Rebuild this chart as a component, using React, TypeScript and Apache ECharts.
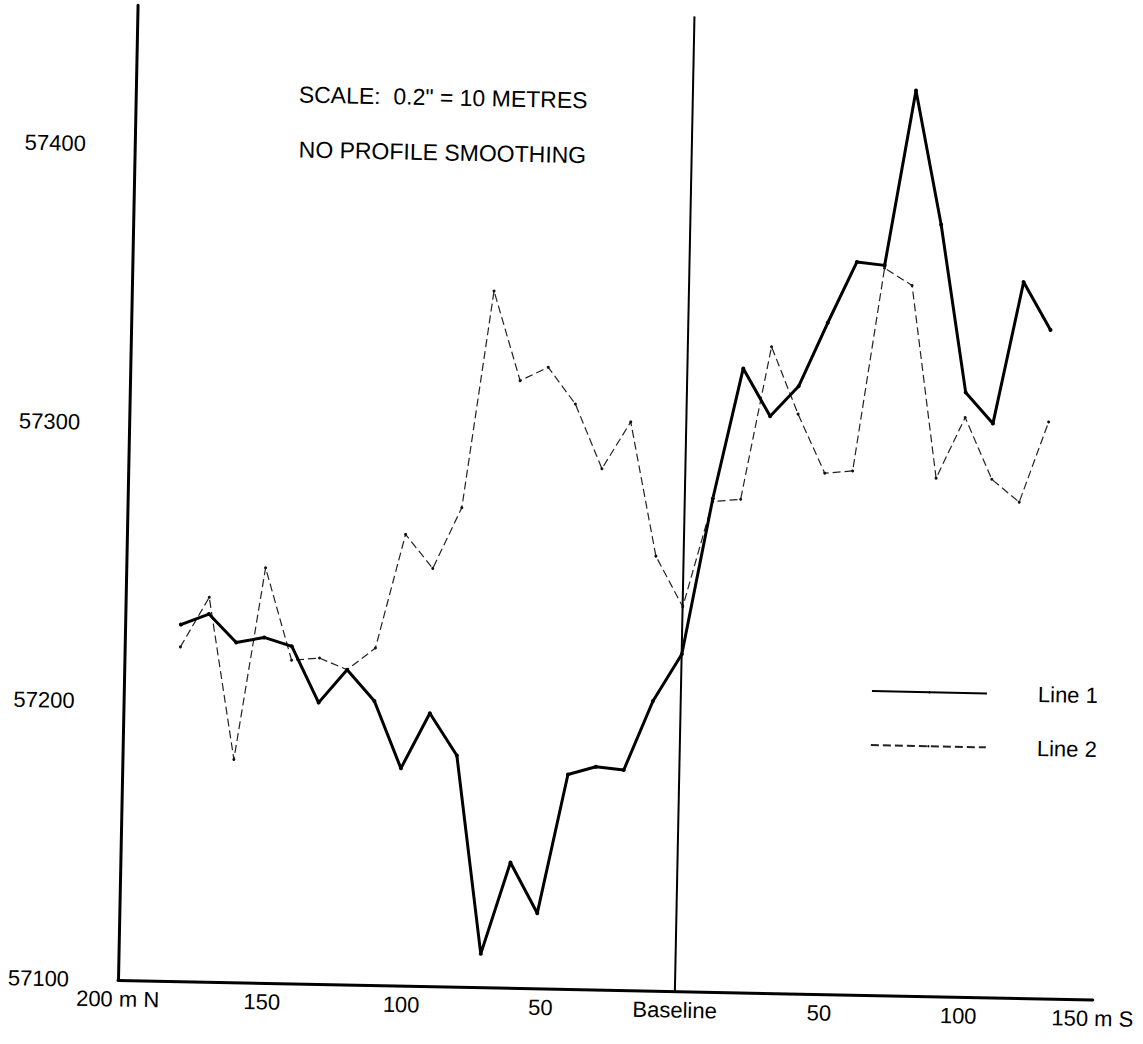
import React, { useEffect, useRef } from "react";
import * as echarts from "echarts";

// Survey stations along the traverse, metres (negative = north of baseline)
const stations = [
  -180, -170, -160, -150, -140, -130, -120, -110, -100, -90, -80, -70, -60, -50, -40, -30,
  -20, -10, 0, 10, 20, 30, 40, 50, 60, 70, 80, 90, 100, 110, 120, 130,
];

// Field readings for each line
const line1 = [
  57228, 57232, 57222, 57224, 57221, 57201, 57213, 57202, 57178, 57198, 57183, 57112, 57145,
  57127, 57177, 57180, 57179, 57204, 57221, 57277, 57324, 57307, 57318, 57341, 57363, 57362,
  57425, 57377, 57317, 57306, 57357, 57340,
];
const line2 = [
  57220, 57238, 57180, 57249, 57216, 57217, 57213, 57221, 57262, 57250, 57272, 57350, 57318,
  57323, 57310, 57287, 57304, 57256, 57238, 57276, 57277, 57332, 57308, 57287, 57288, 57361,
  57355, 57286, 57308, 57286, 57278, 57307,
];

const seriesNames = ["Line 1", "Line 2"];
const titleLines = ['SCALE:  0.2" = 10 METRES', "NO PROFILE SMOOTHING"];

// Distance axis labels
const xLabelText: Record<number, string> = {
  [-200]: "200 m N",
  [-150]: "150",
  [-100]: "100",
  [-50]: "50",
  0: "Baseline",
  50: "50",
  100: "100",
  150: "150 m S",
};

const FONT = "'Liberation Sans', Arial, Helvetica, sans-serif";

export default function App() {
  const ref = useRef<HTMLDivElement>(null);

  useEffect(() => {
    if (!ref.current) return;
    const chart = echarts.init(ref.current, undefined, { renderer: "svg" });

    const pairs = (vals: number[]) => stations.map((s, i) => [s, vals[i]]);

    chart.setOption({
      animation: false,
      backgroundColor: "#ffffff",
      grid: { left: 118, top: 5, width: 975, height: 975, containLabel: false },
      xAxis: {
        type: "value",
        min: -200,
        max: 150,
        interval: 50,
        axisLine: { show: true, onZero: false, lineStyle: { color: "#000", width: 3 } },
        axisTick: { show: false },
        splitLine: { show: false },
        axisLabel: {
          margin: 8,
          fontSize: 22,
          fontFamily: FONT,
          color: "#000",
          showMinLabel: true,
          showMaxLabel: true,
          formatter: (v: number) => {
            const t = xLabelText[v] ?? "";
            // plain distance numbers sit a little right of their tick
            return /^\d+$/.test(t) ? `{n|${t}}` : t;
          },
          rich: {
            n: { fontSize: 22, fontFamily: FONT, color: "#000", padding: [0, 0, 0, 10] },
          },
        },
      },
      yAxis: {
        type: "value",
        min: 57100,
        max: 57450,
        interval: 100,
        axisLine: { show: true, onZero: false, lineStyle: { color: "#000", width: 3 } },
        axisTick: { show: false },
        splitLine: { show: false },
        axisLabel: {
          margin: 49,
          fontSize: 22,
          fontFamily: FONT,
          color: "#000",
          showMaxLabel: false,
          formatter: (v: number) => (v % 100 === 0 ? String(v) : ""),
        },
      },
      legend: {
        orient: "vertical",
        left: 860,
        top: 660,
        itemWidth: 115,
        itemHeight: 3,
        itemGap: 32,
        data: seriesNames,
        textStyle: {
          fontSize: 22,
          fontFamily: FONT,
          color: "#000",
          padding: [0, 0, 0, 46],
        },
      },
      graphic: [
        {
          type: "text",
          x: 281,
          y: 91,
          style: { text: titleLines[0], font: `23px ${FONT}`, fill: "#000", verticalAlign: "middle" },
        },
        {
          type: "text",
          x: 282,
          y: 146,
          style: { text: titleLines[1], font: `23px ${FONT}`, fill: "#000", verticalAlign: "middle" },
        },
      ],
      series: [
        {
          name: seriesNames[0],
          type: "line",
          data: pairs(line1),
          symbol: "circle",
          symbolSize: 4,
          color: "#000",
          itemStyle: { color: "#000" },
          lineStyle: { color: "#000", width: 3 },
          z: 3,
          markLine: {
            silent: true,
            symbol: "none",
            label: { show: false },
            lineStyle: { color: "#000", width: 2, type: "solid" },
            data: [{ xAxis: 0 }],
          },
        },
        {
          name: seriesNames[1],
          type: "line",
          data: pairs(line2),
          symbol: "circle",
          symbolSize: 3,
          color: "#111",
          itemStyle: { color: "#111" },
          lineStyle: { color: "#222", width: 1.2, type: [8, 4] },
          z: 2,
        },
      ],
    });

    return () => chart.dispose();
  }, []);

  return (
    <div
      style={{
        position: "absolute",
        left: 0,
        top: 0,
        width: 1143,
        height: 1044,
        overflow: "hidden",
        background: "#fff",
      }}
    >
      <div
        ref={ref}
        style={{
          width: 1143,
          height: 1044,
          transform: "rotate(1.15deg)",
          transformOrigin: "118px 980px",
        }}
      />
    </div>
  );
}
